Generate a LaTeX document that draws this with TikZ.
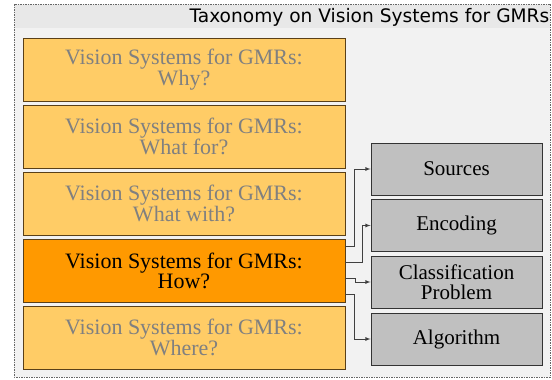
\documentclass[tikz,border=0pt]{standalone}
\usepackage{fontspec}
\setmainfont{Liberation Serif}
\newfontfamily\titlefont{DejaVu Sans}
\usepackage{xcolor}
\usetikzlibrary{calc}

\definecolor{panelbg}{HTML}{F2F2F2}
\definecolor{titlebg}{HTML}{E8E8E8}
\definecolor{qfill}{HTML}{FFCC66}
\definecolor{qactive}{HTML}{FF9900}
\definecolor{qborder}{HTML}{5A4018}
\definecolor{subfill}{HTML}{C0C0C0}
\definecolor{dimtext}{HTML}{808080}

\begin{document}
\begin{tikzpicture}[x=1pt,y=-1pt,
		qbox/.style={draw=qborder, fill=qfill, line width=0.9pt, minimum width=322pt, minimum height=63pt,
			inner sep=0pt, align=center, text=dimtext, font=\fontsize{22}{20}\selectfont},
		qnow/.style={qbox, fill=qactive, text=black},
		subbox/.style={draw=black!80, fill=subfill, line width=0.9pt, minimum width=171pt, minimum height=52pt,
			inner sep=0pt, align=center, font=\fontsize{21}{20.5}\selectfont},
		link/.style={draw=black!75, line width=0.8pt, -latex}]
		\useasboundingbox (0,0) rectangle (552,380);
		\draw[gray!80!black, fill=panelbg, line width=0.6pt, dash pattern=on 1.5pt off 1pt] (14,4) rectangle (550,377);
		\fill[titlebg] (14.5,4.5) rectangle (549.5,28);
		\node[anchor=base east, inner sep=0pt, font=\titlefont\fontsize{18.6}{20}\selectfont] (title) at (549.5,23) {Taxonomy on Vision Systems for GMRs};
		\node[qbox] (why) at (184,69.5) {Vision Systems for GMRs:\\Why?};
		\node[qbox] (whatfor) at (184,136.5) {Vision Systems for GMRs:\\What for?};
		\node[qbox] (whatwith) at (184,203.5) {Vision Systems for GMRs:\\What with?};
		\node[qnow] (how) at (184,270.5) {Vision Systems for GMRs:\\How?};
		\node[qbox] (where) at (184,337.5) {Vision Systems for GMRs:\\Where?};
		\node[subbox] (src) at (456.5,169) {Sources};
		\node[subbox] (enc) at (456.5,225.5) {Encoding};
		\node[subbox] (cls) at (456.5,282) {Classification\\Problem};
		\node[subbox] (alg) at (456.5,339) {Algorithm};
		\draw[link] ($(how.east)+(0,-24)$) -- ++(9,0) |- (src.west);
		\draw[link] ($(how.east)+(0,-8)$) -- ++(17,0) |- (enc.west);
		\draw[link] ($(how.east)+(0,8)$) -- ++(10,0) |- (cls.west);
		\draw[link] ($(how.east)+(0,24)$) -- ++(9,0) |- (alg.west);
\end{tikzpicture}
\end{document}
